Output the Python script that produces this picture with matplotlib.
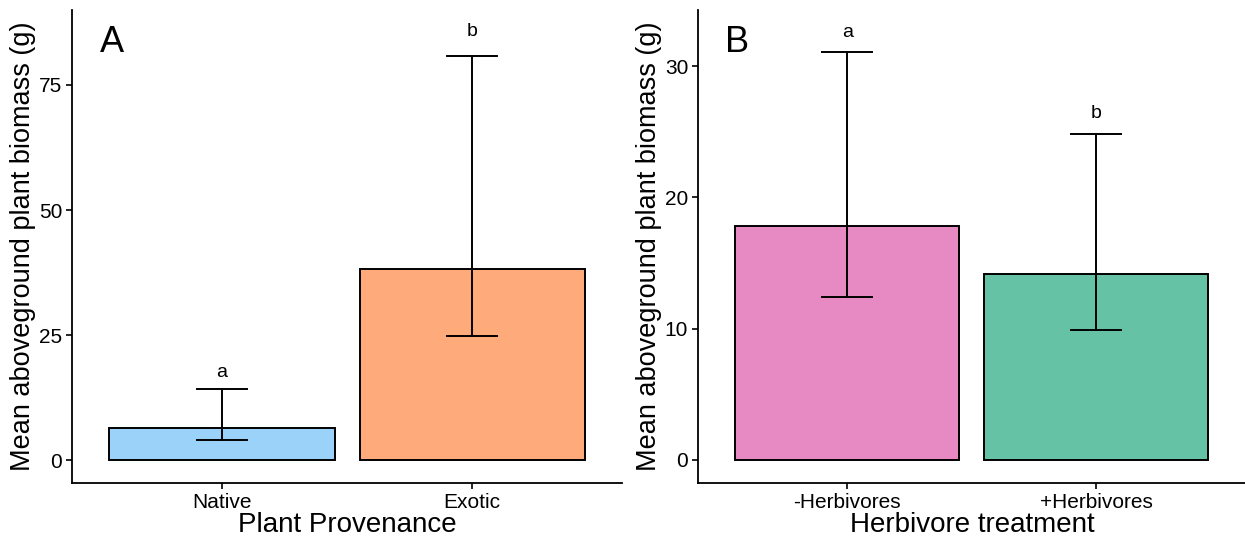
import matplotlib.pyplot as plt

plt.rcParams['font.family'] = ['Liberation Sans', 'DejaVu Sans']

# panel A data
prov_labels = ['Native', 'Exotic']
prov_means = [6.5, 38.2]
prov_lo = [4.1, 24.9]
prov_hi = [14.2, 80.8]
prov_letters = ['a', 'b']
prov_letter_y = [17.6, 85.6]
prov_colors = ['#9AD2F9', '#FFAA7A']

# panel B data
herb_labels = ['-Herbivores', '+Herbivores']
herb_means = [17.8, 14.2]
herb_lo = [12.4, 9.9]
herb_hi = [31.1, 24.8]
herb_letters = ['a', 'b']
herb_letter_y = [32.6, 26.4]
herb_colors = ['#E78AC3', '#66C2A5']


def panel(ax, labels, means, lo, hi, letters, letter_y, colors,
          xlabel, tag, ylim, yticks):
    x = [1, 2]
    ax.bar(x, means, width=0.9, color=colors, edgecolor='black', linewidth=1.4, zorder=2)
    for xi, l, h in zip(x, lo, hi):
        ax.plot([xi, xi], [l, h], color='black', lw=1.4, zorder=3)
        ax.plot([xi - 0.1, xi + 0.1], [l, l], color='black', lw=1.4, zorder=3)
        ax.plot([xi - 0.1, xi + 0.1], [h, h], color='black', lw=1.4, zorder=3)
    for xi, t, yy in zip(x, letters, letter_y):
        ax.text(xi, yy, t, ha='center', va='center', fontsize=14)
    ax.set_xlim(0.4, 2.6)
    ax.set_ylim(*ylim)
    ax.set_xticks(x)
    ax.set_xticklabels(labels)
    ax.set_yticks(yticks)
    ax.tick_params(labelsize=15, length=4, width=1.2, colors='black', pad=3)
    for s in ['top', 'right']:
        ax.spines[s].set_visible(False)
    for s in ['left', 'bottom']:
        ax.spines[s].set_linewidth(1.3)
    ax.set_xlabel(xlabel, fontsize=20, labelpad=0)
    ax.set_ylabel('Mean aboveground plant biomass (g)', fontsize=19.5, labelpad=2)
    ax.text(0.05, 0.93, tag, transform=ax.transAxes, fontsize=26, va='center', ha='left')


fig = plt.figure(figsize=(12.45, 5.42), dpi=100)
ax1 = fig.add_axes([0.0578, 0.109, 0.442, 0.873])
ax2 = fig.add_axes([0.5606, 0.109, 0.44, 0.873])

panel(ax1, prov_labels, prov_means, prov_lo, prov_hi, prov_letters, prov_letter_y,
      prov_colors, 'Plant Provenance', 'A', (-4.5, 90), [0, 25, 50, 75])
panel(ax2, herb_labels, herb_means, herb_lo, herb_hi, herb_letters, herb_letter_y,
      herb_colors, 'Herbivore treatment', 'B', (-1.75, 34.3), [0, 10, 20, 30])

fig.savefig('out.png', dpi=100)
